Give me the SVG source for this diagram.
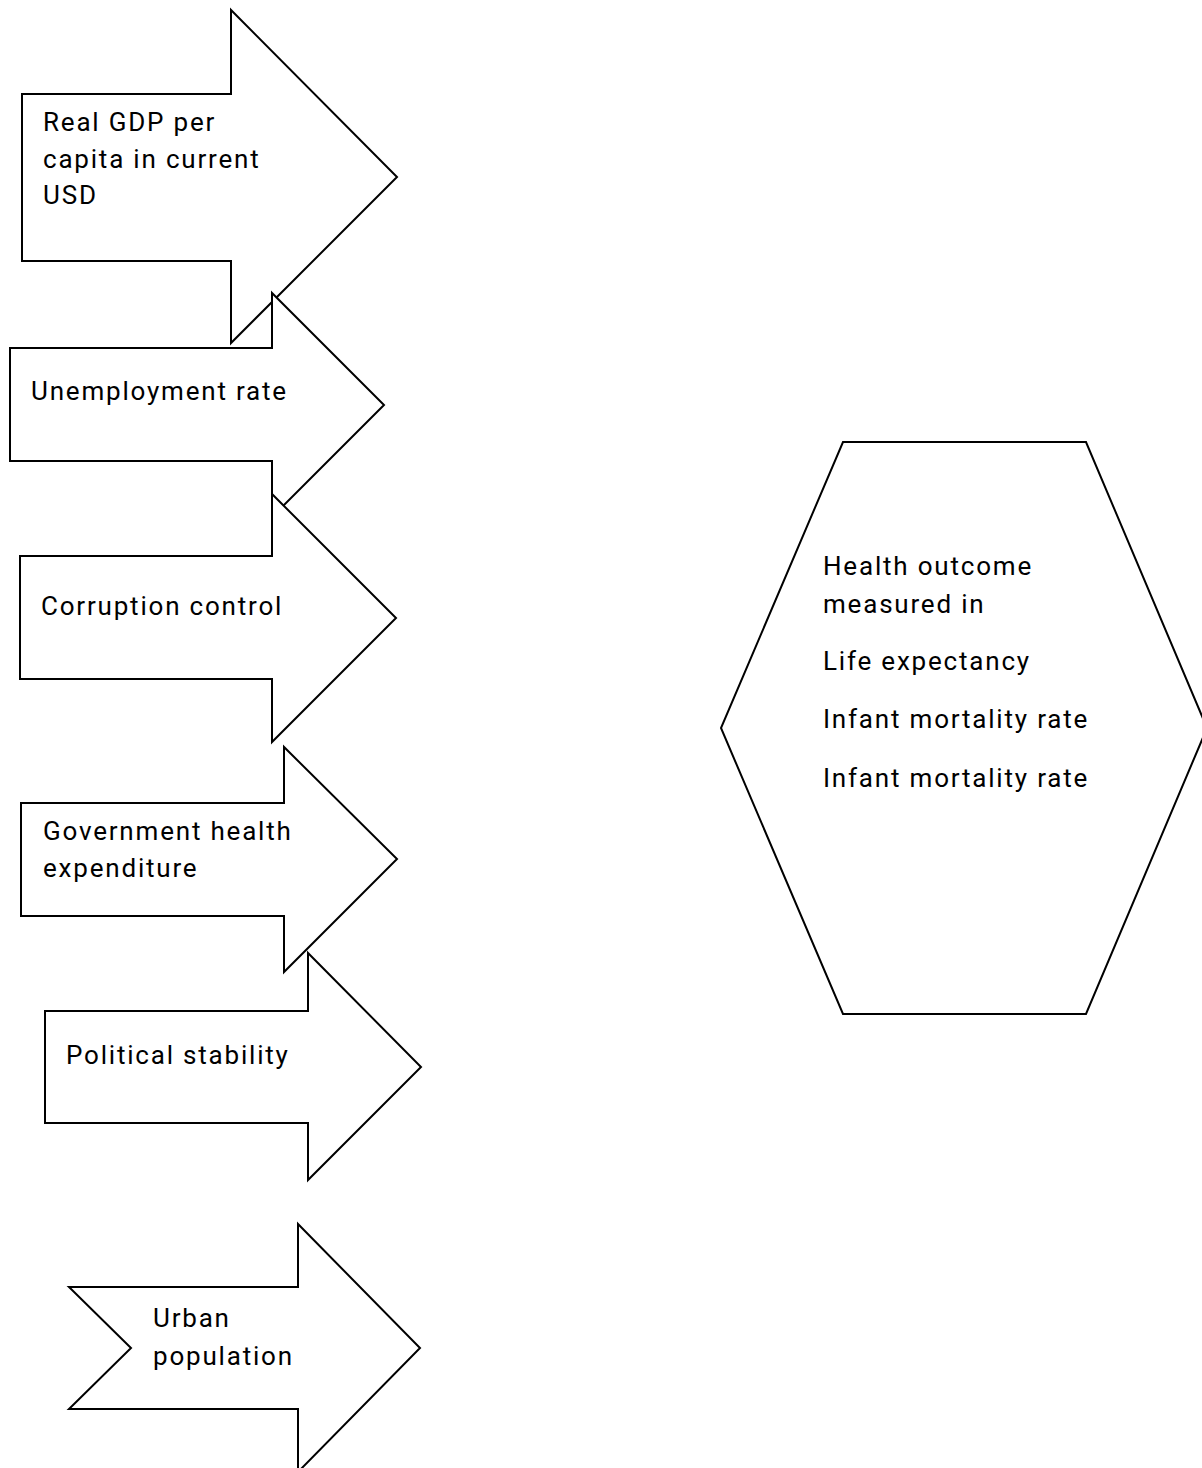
<svg xmlns="http://www.w3.org/2000/svg" width="1202" height="1468" viewBox="0 0 1202 1468">
<style>
.shape{fill:#ffffff;stroke:#000000;stroke-width:2;stroke-linejoin:miter}
.lbl{font-family:Roboto,"Liberation Sans",sans-serif;font-size:26px;letter-spacing:1.8px;fill:#000000}
</style>
<rect x="0" y="0" width="1202" height="1468" fill="#ffffff"/>
<g id="connectors"></g>
<g id="node-gdp">
<polygon class="shape" points="22,94 231,94 231,10 397,177 231,343 231,261 22,261"/>
<text class="lbl" x="43" y="131">Real GDP per</text>
<text class="lbl" x="43" y="168">capita in current</text>
<text class="lbl" x="43" y="204">USD</text>
</g>
<g id="node-unemployment">
<polygon class="shape" points="10,348 272,348 272,293 384,405 272,517 272,461 10,461"/>
<text class="lbl" x="31" y="400">Unemployment rate</text>
</g>
<g id="node-corruption">
<polygon class="shape" points="20,556 272,556 272,494 396,618 272,742 272,679 20,679"/>
<text class="lbl" x="41" y="615">Corruption control</text>
</g>
<g id="node-government">
<polygon class="shape" points="21,803 284,803 284,747 397,859 284,972 284,916 21,916"/>
<text class="lbl" x="43" y="840">Government health</text>
<text class="lbl" x="43" y="877">expenditure</text>
</g>
<g id="node-political">
<polygon class="shape" points="45,1011 308,1011 308,953 421,1067 308,1180 308,1123 45,1123"/>
<text class="lbl" x="66" y="1064">Political stability</text>
</g>
<g id="node-urban">
<polygon class="shape" points="69,1287 298,1287 298,1224 420,1348 298,1472 298,1409 69,1409 131,1348"/>
<text class="lbl" x="153" y="1327">Urban</text>
<text class="lbl" x="153" y="1365">population</text>
</g>
<g id="node-health">
<polygon class="shape" points="843,442 1086,442 1207,728 1086,1014 843,1014 721,728"/>
<text class="lbl" x="823" y="575">Health outcome</text>
<text class="lbl" x="823" y="613">measured in</text>
<text class="lbl" x="823" y="670">Life expectancy</text>
<text class="lbl" x="823" y="728">Infant mortality rate</text>
<text class="lbl" x="823" y="787">Infant mortality rate</text>
</g>
</svg>
